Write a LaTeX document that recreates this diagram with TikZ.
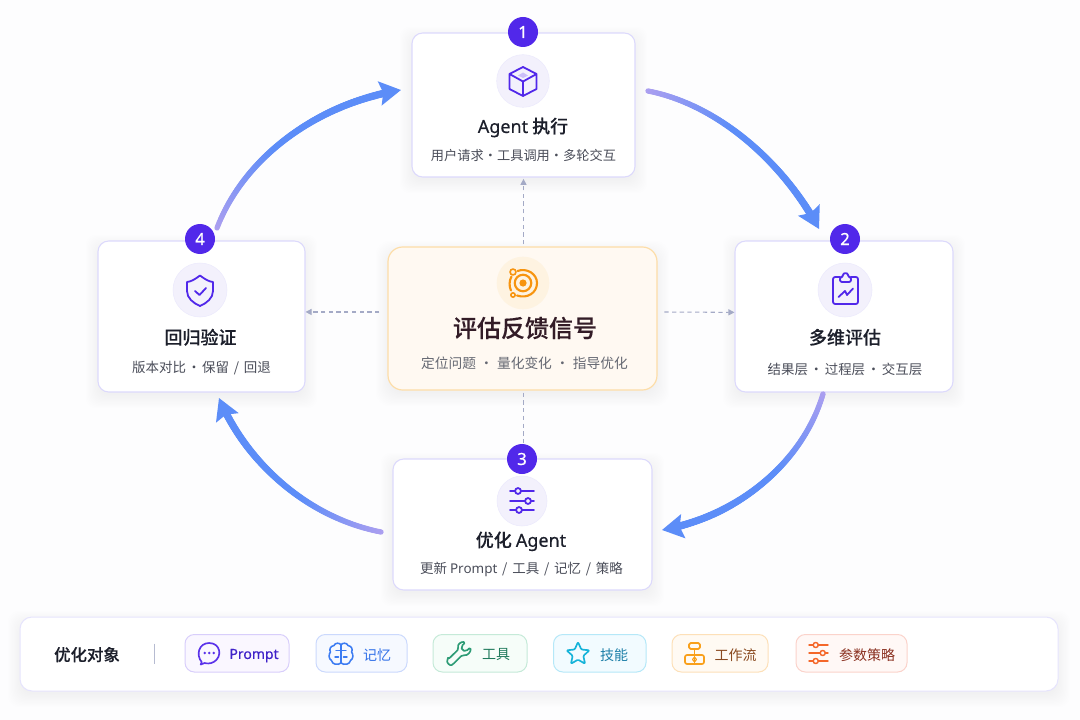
\documentclass[tikz,border=0pt]{standalone}
\usepackage{fontspec}
\setmainfont{Noto Sans CJK SC}
\newfontfamily\cjkm{Noto Sans CJK SC Medium}[FakeBold=0.12]
\newfontfamily\cjkb{Noto Sans CJK SC Medium}[FakeBold=0.3]
\newfontfamily\lat{Noto Sans}
\newfontfamily\latm{Noto Sans}[FakeBold=0.45]
\newfontfamily\latb{Noto Sans}[FakeBold=0.7]
\newcommand{\sepd}[1]{\makebox[#1pt][c]{·}}
\newcommand{\slashd}{\kern3.6pt/\kern3.6pt}
\usetikzlibrary{arrows.meta,decorations.markings}
\definecolor{bgc}{HTML}{FDFDFE}
\definecolor{cardline}{HTML}{DCD9FC}
\definecolor{vio}{HTML}{5128EA}
\definecolor{iconbg}{HTML}{F3F1FC}
\definecolor{ink}{HTML}{1C1F2B}
\definecolor{subink}{HTML}{4A4D59}
\definecolor{arrblue}{HTML}{5C8DF8}
\definecolor{arrpur}{HTML}{AC9FF0}
\definecolor{dashc}{HTML}{A4AAC6}
\definecolor{orgline}{HTML}{FDDDA8}
\definecolor{orgfill}{HTML}{FFF9F2}
\definecolor{orgicon}{HTML}{F7940F}
\definecolor{shc}{HTML}{6A6AB0}
\definecolor{c1c}{HTML}{5A32EA}\definecolor{c2c}{HTML}{3B7BF2}\definecolor{c3c}{HTML}{2E9C76}
\definecolor{c4c}{HTML}{16B3D9}\definecolor{c5c}{HTML}{F9A01B}\definecolor{c6c}{HTML}{F4672A}
\definecolor{l1}{HTML}{D8CEFB}\definecolor{f1}{HTML}{FAF7FF}\definecolor{t1c}{HTML}{3F22C9}
\definecolor{l2}{HTML}{CBD9FD}\definecolor{f2}{HTML}{F6F9FF}\definecolor{t2c}{HTML}{2F6FE8}
\definecolor{l3}{HTML}{C5EAD8}\definecolor{f3}{HTML}{F6FDF9}\definecolor{t3c}{HTML}{1F7A5C}
\definecolor{l4}{HTML}{B5E8F8}\definecolor{f4}{HTML}{F2FBFF}\definecolor{t4c}{HTML}{1D7FA8}
\definecolor{l5}{HTML}{FDE0B8}\definecolor{f5}{HTML}{FFFAF3}\definecolor{t5c}{HTML}{8A4A20}
\definecolor{l6}{HTML}{FBD3CB}\definecolor{f6}{HTML}{FFF8F6}\definecolor{t6c}{HTML}{8A3020}
\tikzset{
  x=0.75pt,y=-0.75pt,
  cardbox/.style={draw=cardline,fill=white,line width=0.8pt,rounded corners=8pt,inner sep=0pt},
  badge/.style={circle,fill=vio,text=white,inner sep=0pt,minimum size=22.5pt,font=\fontsize{12.5}{14}\latb},
  iconbgc/.style={circle,draw=#1!70!cardline,fill=#1,line width=.4pt,inner sep=0pt},
  titletx/.style={text=ink,inner sep=0pt,font=\fontsize{13.5}{16}\cjkm},
  subtx/.style={text=subink,inner sep=0pt,font=\fontsize{#1}{12}\selectfont},
  subtx/.default=10.1,
  ico/.style={draw=vio,line width=1.35pt,line cap=round,line join=round},
  dashconn/.style={draw=dashc,line width=.8pt,dash pattern=on 3.2pt off 2.6pt,-{Triangle[length=4.5pt,width=4.5pt,fill=dashc]}},
  chip/.style n args={2}{draw=#1,fill=#2,line width=.75pt,rounded corners=7pt,inner sep=0pt},
  chiptx/.style={text=#1,inner sep=0pt,font=\fontsize{10.5}{13}\selectfont},
  cico/.style={draw=#1,line width=1.25pt,line cap=round,line join=round},
  bigarrow/.style={draw=arrblue,line width=2.5pt,-{Stealth[length=16pt,width=18pt,inset=2.5pt,fill=arrblue]}},
  brush/.style={draw=none,decorate,decoration={markings,
    mark=between positions 0 and 0.92 step 0.8pt with {%
      \pgfmathsetmacro\fr{(\pgfkeysvalueof{/pgf/decoration/mark info/distance from start})/\pgfdecoratedpathlength}%
      \pgfmathsetmacro\mixv{min(100,100*\fr/0.42)}%
      \pgfmathsetmacro\rad{2.0+0.9*\fr}%
      \fill[arrblue!\mixv!arrpur] (0,0) circle (\rad pt);}}},
}
\newcommand{\softsh}[5]{%
  \foreach \i in {1,...,12}{%
    \fill[shc,opacity=.0035,rounded corners=#5pt] ({#1-1.2*\i+2},{#2-1.2*\i+8}) rectangle ({#3+1.2*\i-2},{#4+1.2*\i+2});}}
\newcommand{\rectnode}[6]{%
  \node[#6,minimum width={(#4-#2)*0.75},minimum height={(#5-#3)*0.75}] (#1) at ({(#2+#4)/2},{(#3+#5)/2}) {};}
\begin{document}
\begin{tikzpicture}
\useasboundingbox (0,0) rectangle (1080,720);
\fill[bgc] (0,0) rectangle (1080,720);

\softsh{412}{33}{635}{177}{8}
\softsh{735}{241}{953}{392}{8}
\softsh{98}{241}{305}{392}{8}
\softsh{388}{247}{657}{390}{11}
\softsh{393}{459}{652}{590}{8}
\softsh{20}{617}{1058}{691}{9}

\rectnode{c1}{412}{33}{635}{177}{cardbox}
\rectnode{c2}{735}{241}{953}{392}{cardbox}
\rectnode{c4}{98}{241}{305}{392}{cardbox}
\rectnode{c3}{393}{459}{652}{590}{cardbox}
\rectnode{ctr}{388}{247}{657}{390}{draw=orgline,fill=orgfill,line width=.9pt,rounded corners=11pt,inner sep=0pt}

\draw[dashconn,shorten <=1.5pt,shorten >=1pt] (ctr.north -| c1.south) -- (c1.south);
\draw[dashconn,shorten <=6pt] ([yshift=4.9pt]ctr.west) -- ([yshift=3.4pt]c4.east);
\draw[dashconn,shorten <=5pt] ([yshift=4.9pt]ctr.east) -- ([yshift=3.1pt]c2.west);
\draw[draw=dashc,line width=.8pt,dash pattern=on 3.2pt off 2.6pt,shorten <=1.5pt] (ctr.south -| c1.south) -- (c3.north -| c1.south);

\coordinate (a1s) at (648,91);  \coordinate (a1e) at (819,229);
\coordinate (a2s) at (823,394); \coordinate (a2e) at (662,530);
\coordinate (a3s) at (381,532); \coordinate (a3e) at (219,398);
\coordinate (a4s) at (217,228); \coordinate (a4e) at (401,90);
\draw[bigarrow] (a1s) .. controls (720,105) and (785,165) .. (a1e);
\draw[brush] (a1s) .. controls (720,105) and (785,165) .. (a1e);
\draw[bigarrow] (a2s) .. controls (802,465) and (735,517) .. (a2e);
\draw[brush] (a2s) .. controls (802,465) and (735,517) .. (a2e);
\draw[bigarrow] (a3s) .. controls (305,517) and (245,460) .. (a3e);
\draw[brush] (a3s) .. controls (305,517) and (245,460) .. (a3e);
\draw[bigarrow] (a4s) .. controls (245,155) and (320,103) .. (a4e);
\draw[brush] (a4s) .. controls (245,155) and (320,103) .. (a4e);

\node[badge] (b1) at (523,32) {1};
\node[badge] (b2) at (845,239) {2};
\node[badge] (b3) at (522,459) {3};
\node[badge] (b4) at (200,239) {4};

\node[iconbgc=iconbg,minimum size=39.5pt] (i1) at (523,81) {};
\node[iconbgc=iconbg,minimum size=40.5pt] (i2) at (845,290) {};
\node[iconbgc=iconbg,minimum size=40.5pt] (i4) at (200,290) {};
\node[iconbgc=iconbg,minimum size=37.5pt] (i3) at (522,501) {};
\node[circle,fill=orgline!35!white,inner sep=0pt,minimum size=39.5pt] (ic) at (523,283) {};

% cube
\draw[ico] (523,67) -- (536.5,74) -- (536.5,89) -- (523,96) -- (509.5,89) -- (509.5,74) -- cycle
  (509.5,74) -- (523,81.5) -- (536.5,74) (523,81.5) -- (523,96);
\fill[vio!30!white] (523,72.5) -- (528,75.5) -- (523,78) -- (518,75.5) -- cycle;
% clipboard
\draw[ico,rounded corners=1.6pt] (840,277) -- (833,277) -- (833,304) -- (858,304) -- (858,277) -- (851,277);
\draw[ico,fill=iconbg,rounded corners=1.5pt] (840,277) -- (843,277) .. controls (843,272.5) and (848,272.5) .. (848,277) -- (851,277) -- (851,282) -- (840,282) -- cycle;
\draw[ico] (838.5,297) -- (845,291) -- (847,295) -- (853,288.5);
% shield
\draw[ico] (200,275.5) .. controls (194,280) and (191,281.5) .. (187,282) -- (187,291) .. controls (187,298) and (193,303) .. (200,306) .. controls (207,303) and (213,298) .. (213,291) -- (213,282) .. controls (209,281.5) and (206,280) .. (200,275.5) -- cycle;
\draw[ico] (195,291) -- (199.5,295) -- (206,288);
% sliders
\foreach \yy/\xx in {491/518,501/528,510/519}{
  \draw[ico] (510,\yy) -- (534,\yy);
  \draw[ico,fill=iconbg] (\xx,\yy) circle (2.2pt);}
% target
\tikzset{tg/.style={draw=orgicon,line width=1.6pt,line cap=round}}
\fill[orgicon] (523,283) circle (2.7pt);
\draw[tg] (523,283) circle (6.2pt);
\draw[tg] (517.5,271) .. controls (527,267.5) and (537,274) .. (537,283) .. controls (537,293) and (527,299) .. (517,295.5);
\draw[tg] (511.5,276.5) .. controls (509,281) and (509,286) .. (511,290.5);
\draw[draw=orgicon,line width=1.2pt] (513,272) circle (2.2pt);
\draw[draw=orgicon,line width=1.2pt] (513,295) circle (1.6pt);

\node[titletx] (t1) at (523,127.5) {{\latm Agent} 执行};
\node[subtx=9.9] (s1) at (523.5,155.8) {用户请求\sepd{10}工具调用\sepd{10}多轮交互};
\node[titletx] (t2) at (845,337.3) {多维评估};
\node[subtx] (s2) at (845,369.8) {结果层\sepd{12.5}过程层\sepd{12.5}交互层};
\node[titletx] (t4) at (200.5,337.3) {回归验证};
\node[subtx] (s4) at (201.5,367.8) {版本对比\sepd{12}保留\slashd 回退};
\node[titletx] (t3) at (521,541.3) {优化 {\latm Agent}};
\node[subtx] (s3) at (521.5,569.8) {更新 {\lat Prompt}\slashd 工具\slashd 记忆\slashd 策略};
\node[text=ink!90!red,inner sep=0pt,font=\fontsize{18}{22}\cjkb] (tc) at (525,328) {评估反馈信号};
\node[text=subink!85!white,inner sep=0pt,font=\fontsize{10.3}{13}\selectfont] (sc) at (524.5,362.8) {定位问题\sepd{15.75}量化变化\sepd{15.75}指导优化};

\rectnode{bar}{20}{617}{1058}{691}{draw=cardline!70!white,fill=white,line width=.75pt,rounded corners=9pt,inner sep=0pt}
\node[text=ink,inner sep=0pt,font=\fontsize{12.3}{15}\cjkm] (barl) at (87,654.6) {优化对象};
\node[inner sep=0pt,minimum width=0pt,minimum height=15pt,draw=none] (dv) at (154.5,654) {};
\draw[draw=dashc!80!white,line width=.8pt] (dv.north) -- (dv.south);

\rectnode{p1}{185}{634.5}{289}{672}{chip={l1}{f1}}
\rectnode{p2}{316}{634.5}{407}{672}{chip={l2}{f2}}
\rectnode{p3}{433}{634.5}{527}{672}{chip={l3}{f3}}
\rectnode{p4}{553.5}{634.5}{646}{672}{chip={l4}{f4}}
\rectnode{p5}{672}{634.5}{768}{672}{chip={l5}{f5}}
\rectnode{p6}{796}{634.5}{907}{672}{chip={l6}{f6}}

\node[chiptx=t1c] (pt1) at (254,655.6) {{\latm Prompt}};
\node[chiptx=t2c] (pt2) at (377,655) {记忆};
\node[chiptx=t3c] (pt3) at (496,655) {工具};
\node[chiptx=t4c] (pt4) at (614,655) {技能};
\node[chiptx=t5c] (pt5) at (735.5,655) {工作流};
\node[chiptx=t6c] (pt6) at (867,655) {参数策略};

% chat bubble
\begin{scope}[shift={(0.7,0)}]
\draw[cico=c1c] (201,662) .. controls (195,655) and (198,643) .. (208.5,643) .. controls (220,643) and (222,657) .. (213,662) .. controls (209.5,664) and (205.5,663.5) .. (204,663) -- (200,664.5) -- cycle;
\foreach \xx in {204,208.5,213}{\fill[c1c] (\xx,653) circle (1pt);}
\end{scope}
% brain
\foreach \sg in {1,-1}{
\begin{scope}[shift={(341,654)},xscale=\sg]
\draw[cico=c2c,line width=1.15pt] (0,-9) .. controls (-1,-11.5) and (-6,-11.5) .. (-7,-8.5) .. controls (-11,-8) and (-12,-4) .. (-10.5,-2) .. controls (-12.5,0) and (-12.5,5) .. (-9.5,6.5) .. controls (-9,10.5) and (-3,11.5) .. (0,9);
\draw[cico=c2c,line width=1.05pt] (-5,-3.5) -- (0,-3.5) (-6,3) -- (-2.5,3);
\end{scope}}
\draw[cico=c2c,line width=1.15pt] (341,645) -- (341,663);
% wrench
\draw[cico=c3c,rounded corners=1.3pt] (448,659.5) -- (458.8,649) .. controls (457,644.5) and (461,641.5) .. (465.5,642.2) -- (461.3,646.5) -- (462.2,650.4) -- (466.2,651.2) -- (470.5,647.2) .. controls (471,652) and (467.5,656) .. (462.5,654.8) -- (453,664.3) .. controls (450,666) and (446.5,662.5) .. (448,659.5) -- cycle;
% star
\begin{scope}[shift={(2,0)}]
\draw[cico=c4c,rounded corners=.8pt] (576,642) -- (579.3,649.5) -- (587.5,650.3) -- (581.3,655.8) -- (583.1,663.8) -- (576,659.6) -- (568.9,663.8) -- (570.7,655.8) -- (564.5,650.3) -- (572.7,649.5) -- cycle;
\end{scope}
% flow
\draw[cico=c5c,rounded corners=1.2pt] (689,643) rectangle (700,649);
\draw[cico=c5c,rounded corners=1.5pt] (685,655) rectangle (704,664);
\draw[cico=c5c] (694.5,649) -- (694.5,664);
\draw[cico=c5c,line width=.8pt] (694.5,657) -- (696.5,659.5) -- (694.5,662) -- (692.5,659.5) -- cycle;
% sliders orange
\foreach \yy/\xx in {645/815.7,653/822.7,661/815.7}{
  \draw[cico=c6c,line width=1.1pt] (809,\yy) -- (828,\yy);
  \draw[cico=c6c,line width=1.1pt,fill=f6] (\xx,\yy) circle (1.9pt);}
\end{tikzpicture}
\end{document}
